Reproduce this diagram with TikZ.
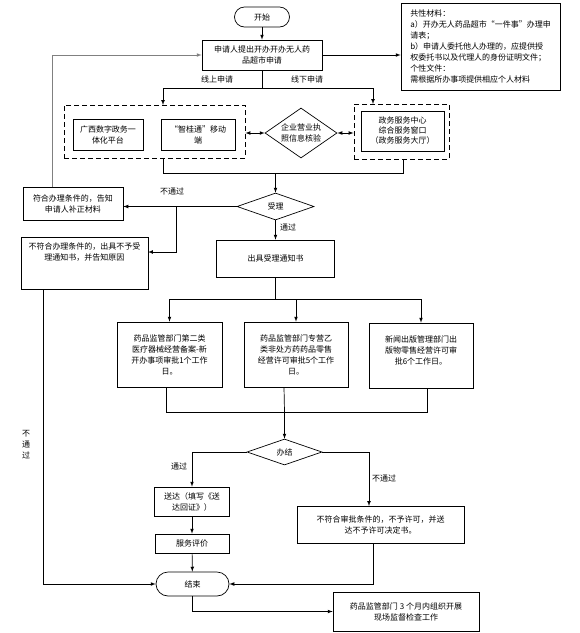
\documentclass[tikz,border=0pt]{standalone}
\usepackage{fontspec}
\setmainfont{Noto Sans CJK SC}
\usepackage{tikz}
\usetikzlibrary{positioning}
\usetikzlibrary{shapes.geometric}

\begin{document}
\begin{tikzpicture}[x=1pt, y=-1pt, >=latex, line width=0.7pt,
    every node/.style={font=\fontsize{8}{11}\selectfont, align=center, inner sep=0pt},
    box/.style={draw, rectangle},
    dashbox/.style={draw, rectangle, line width=0.9pt, dash pattern=on 5pt off 3pt},
    roundbox/.style={draw, rectangle, rounded corners=10pt},
    decision/.style={draw, diamond, aspect=1.5}]

                \useasboundingbox (0,0) rectangle (580,633);

                % Nodes
                \node at (262,17) (start) [roundbox, minimum width=55pt, minimum height=20pt] {开始};
                \node at (262,55) (apply) [box, minimum width=120pt, minimum height=30pt] {申请人提出开办开办无人药\\品超市申请};
                \node at (480.5,46.5) (material) [box, minimum width=159pt, minimum height=87pt, align=left] {共性材料：\\a）开办无人药品超市“一件事”办理申\\请表；\\b）申请人委托他人办理的，应提供授\\权委托书以及代理人的身份证明文件；\\个性文件：\\需根据所办事项提供相应个人材料};
                \node at (154.5,131.5) (onlinegrp) [dashbox, minimum width=181pt, minimum height=53pt] {};
                \node at (108,134.5) (pc) [box, minimum width=70pt, minimum height=31pt] {广西数字政务一\\体化平台};
                \node at (198,134.5) (mobile) [box, minimum width=74pt, minimum height=31pt] {“智桂通”移动\\端};
                \node at (301,133) (verify) [decision, minimum width=72pt, minimum height=50pt] {企业营业执\\照信息核验};
                \node at (401.5,131.5) (offlinegrp) [dashbox, minimum width=95pt, minimum height=55pt] {};
                \node at (402.5,131) (hall) [box, minimum width=83pt, minimum height=40pt, font=\fontsize{8}{10}\selectfont] {政务服务中心\\综合服务窗口\\（政务服务大厅）};
                \node at (275.5,206.5) (accept) [decision, minimum width=77pt, minimum height=27pt] {受理};
                \node at (73,203.5) (supplement) [box, minimum width=100pt, minimum height=33pt] {符合办理条件的，告知\\申请人补正材料};
                \node at (84.5,263) (refuse) [box, minimum width=127pt, minimum height=52pt] {不符合办理条件的，出具不予受\\理通知书，并告知原因\\~\\~};
                \node at (275.5,258.5) (notice) [box, minimum width=118pt, minimum height=37pt] {出具受理通知书};
                \node at (169.5,354.5) (drugA) [box, minimum width=105pt, minimum height=65pt] {药品监管部门第二类\\医疗器械经营备案-新\\开办事项审批1个工作\\日。};
                \node at (296,354.5) (drugB) [box, minimum width=104pt, minimum height=65pt] {药品监管部门专营乙\\类非处方药药品零售\\经营许可审批5个工作\\日。};
                \node at (421,355.5) (press) [box, minimum width=104pt, minimum height=65pt] {新闻出版管理部门出\\版物零售经营许可审\\批6个工作日。\\~};
                \node at (284.5,452) (finish) [decision, minimum width=75pt, minimum height=26pt] {办结};
                \node at (192,501.5) (deliver) [box, minimum width=75pt, minimum height=29pt] {送达（填写《送\\达回证》）};
                \node at (192,543.5) (review) [box, minimum width=74pt, minimum height=19pt] {服务评价};
                \node at (192.5,584) (stop) [roundbox, rounded corners=12pt, minimum width=73pt, minimum height=24pt] {结束};
                \node at (380.5,524.5) (deny) [box, minimum width=167pt, minimum height=37pt] {不符合审批条件的，不予许可，并送\\达不予许可决定书。};
                \node at (406,611.5) (inspect) [box, minimum width=146pt, minimum height=39pt] {药品监管部门 3 个月内组织开展\\现场监督检查工作};

                % Labels
                \node at (217,79) (onlinelbl) {线上申请};
                \node at (307,79) (offlinelbl) {线下申请};
                \node at (172,191) (nopassA) {不通过};
                \node at (288,227) (passA) {通过};
                \node at (179,466) (passB) {通过};
                \node at (384,478) (nopassB) {不通过};
                \node at (26,445) (nopassC) {不\\通\\过};

                % Corners
                \coordinate (split) at (262,88);
                \coordinate (onin) at (163,105);
                \coordinate (offin) at (373,104);
                \coordinate (onout) at (163,158);
                \coordinate (offout) at (403,159);
                \coordinate (merge) at (275.5,173);
                \coordinate (fork) at (176,206.5);
                \coordinate (refusein) at (148,252);
                \coordinate (suppout) at (52,187);
                \coordinate (refuseout) at (43,289);
                \coordinate (splitB) at (275.5,299);
                \coordinate (aout) at (166,387);
                \coordinate (bout) at (284,387);
                \coordinate (cout) at (427,388);
                \coordinate (join) at (284.5,412);
                \coordinate (denyin) at (369,506);
                \coordinate (denyout) at (373,543);

                % Arrows
                \draw[->] (start) -- (apply);
                \draw[->] (apply.east) -- (apply.east -| material.west);
                \draw (apply.south) -- (split);
                \draw[->] (split) -| (onin);
                \draw[->] (split) -| (offin);
                \draw[<->] (verify.west -| onlinegrp.east) -- (verify.west);
                \draw[<->] (verify.east) -- (verify.east -| offlinegrp.west);
                \draw (onout) |- (merge);
                \draw (offout) |- (merge);
                \draw[->] (merge) -- (accept.north);
                \draw[->] (accept.west) -- (accept.west -| supplement.east);
                \draw[->] (fork) |- (refusein);
                \draw[->, gray] (suppout) |- (apply.west);
                \draw[->] (accept.south) -- (notice.north);
                \draw (notice.south) -- (splitB);
                \draw[->] (splitB) -| (drugA.north);
                \draw[->] (splitB) -| (press.north);
                \draw[->] (splitB -| drugB.north) -- (drugB.north);
                \draw (aout) |- (join);
                \draw (cout) |- (join);
                \draw (bout) -- (join);
                \draw[->] (join) -- (finish.north);
                \draw[->] (finish.west) -| (deliver.north);
                \draw[->] (deliver) -- (review);
                \draw[->] (review) -- (stop);
                \draw[->] (finish.east) -| (denyin);
                \draw[->] (denyout) |- (stop.east);
                \draw[->] (refuseout) |- (stop.west);
                \draw[->] (stop.south) |- (inspect.west);

\end{tikzpicture}
\end{document}
